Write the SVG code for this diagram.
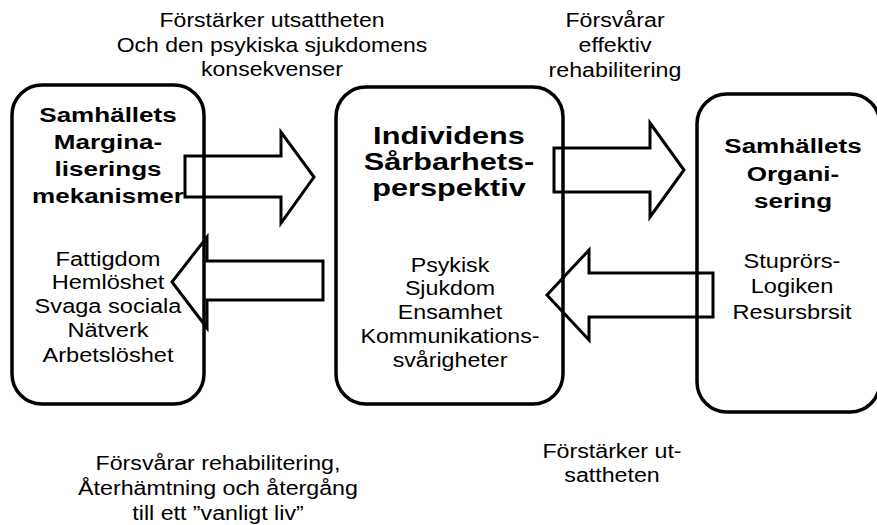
<svg xmlns="http://www.w3.org/2000/svg" width="877" height="525" viewBox="0 0 877 525">
<style>
.box{fill:none;stroke:#000;stroke-width:3.5}
.arr{fill:none;stroke:#000;stroke-width:3;stroke-linejoin:miter}
text{font-family:"Liberation Sans",Arial,sans-serif;fill:#000;text-anchor:middle}
.n{font-size:19.5px}
.b{font-size:21px;font-weight:bold}
.bb{font-size:24px;font-weight:bold}
</style>
<rect width="877" height="525" fill="#fff"/>
<g id="node-left">
<rect class="box" x="12" y="85" width="192" height="319" rx="30"/>
<text class="b" transform="translate(108 0) scale(1.24 1)"><tspan x="0" y="122">Samhällets</tspan><tspan x="0" y="149">Margina-</tspan><tspan x="0" y="176">liserings</tspan><tspan x="0" y="203">mekanismer</tspan></text>
<text class="n" transform="translate(108 0) scale(1.21 1)"><tspan x="0" y="266">Fattigdom</tspan><tspan x="0" y="289">Hemlöshet</tspan><tspan x="0" y="313">Svaga sociala</tspan><tspan x="0" y="337">Nätverk</tspan><tspan x="0" y="362">Arbetslöshet</tspan></text>
</g>
<g id="node-middle">
<rect class="box" x="336" y="87" width="227" height="317" rx="30"/>
<text class="bb" transform="translate(449 0) scale(1.28 1)"><tspan x="0" y="144">Individens</tspan><tspan x="0" y="170">Sårbarhets-</tspan><tspan x="0" y="196">perspektiv</tspan></text>
<text class="n" transform="translate(450 0) scale(1.19 1)"><tspan x="0" y="272">Psykisk</tspan><tspan x="0" y="295">Sjukdom</tspan><tspan x="0" y="319">Ensamhet</tspan><tspan x="0" y="343">Kommunikations-</tspan><tspan x="0" y="367">svårigheter</tspan></text>
</g>
<g id="node-right">
<rect class="box" x="697" y="94" width="183" height="318" rx="30"/>
<text class="b" transform="translate(793 0) scale(1.24 1)"><tspan x="0" y="153">Samhällets</tspan><tspan x="0" y="181">Organi-</tspan><tspan x="0" y="208">sering</tspan></text>
<text class="n" transform="translate(792 0) scale(1.21 1)"><tspan x="0" y="268">Stuprörs-</tspan><tspan x="0" y="293">Logiken</tspan><tspan x="0" y="319">Resursbrsit</tspan></text>
</g>
<g id="connectors">
<path class="arr" d="M185,156 H281 V132 L314,177 L281,223 V197 H185 Z"/>
<path class="arr" d="M323,261 H207 V237 L172,282 L207,328 V300 H323 Z"/>
<path class="arr" d="M554,148 H650 V123 L684,170 L650,217 V192 H554 Z"/>
<path class="arr" d="M713,273 H589 V250 L547,295 L589,340 V317 H713 Z"/>
</g>
<g id="labels">
<text class="n" transform="translate(272 0) scale(1.18 1)"><tspan x="0" y="27">Förstärker utsattheten</tspan><tspan x="0" y="52">Och den psykiska sjukdomens</tspan><tspan x="0" y="76">konsekvenser</tspan></text>
<text class="n" transform="translate(615 0) scale(1.19 1)"><tspan x="0" y="27">Försvårar</tspan><tspan x="0" y="52">effektiv</tspan><tspan x="0" y="77">rehabilitering</tspan></text>
<text class="n" transform="translate(612 0) scale(1.19 1)"><tspan x="0" y="458">Förstärker ut-</tspan><tspan x="0" y="482">sattheten</tspan></text>
<text class="n" transform="translate(218 0) scale(1.19 1)"><tspan x="0" y="470">Försvårar rehabilitering,</tspan><tspan x="0" y="495">Återhämtning och återgång</tspan><tspan x="0" y="520">till ett ”vanligt liv”</tspan></text>
</g>
</svg>
